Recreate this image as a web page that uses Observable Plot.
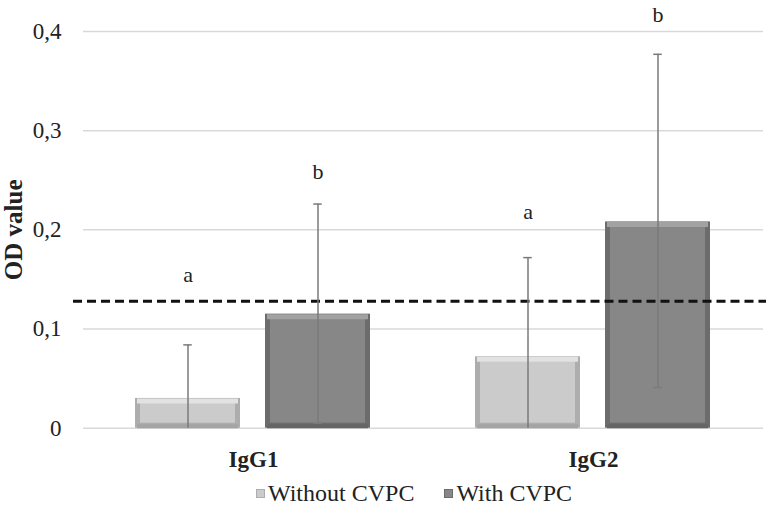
<!DOCTYPE html>
<html><head><meta charset="utf-8">
<script src="https://cdn.jsdelivr.net/npm/d3@7"></script>
<script src="https://cdn.jsdelivr.net/npm/@observablehq/plot@0.6"></script>
<style>
body{margin:0;background:#fff;font-family:"Liberation Serif","Times New Roman",serif;}
#legend{display:flex;align-items:center;height:38px;padding-left:256px;font-size:24px;color:#222;}
#legend .item{display:flex;align-items:center;margin-right:30px;}
#legend .sw{width:9px;height:9px;margin-right:3px;box-sizing:border-box;}
</style></head><body>
<div id="chart"></div>
<div id="legend"></div>
<script>
const groups = ["IgG1", "IgG2"];
const series = ["Without CVPC", "With CVPC"];
const withoutMean = [0.030, 0.072];
const withMean = [0.115, 0.208];
const withoutLower = [0, 0];
const withoutUpper = [0.084, 0.172];
const withLower = [0.005, 0.041];
const withUpper = [0.226, 0.377];
const withoutLetter = ["a", "a"];
const withLetter = ["b", "b"];
const withoutLetterY = [0.155, 0.218];
const withLetterY = [0.258, 0.417];
const threshold = 0.128;
const yTicks = [0, 0.1, 0.2, 0.3, 0.4];

const rows = [];
groups.forEach((g, i) => {
  rows.push({group: g, series: series[0], mean: withoutMean[i], lo: withoutLower[i], hi: withoutUpper[i], letter: withoutLetter[i], ly: withoutLetterY[i]});
  rows.push({group: g, series: series[1], mean: withMean[i], lo: withLower[i], hi: withUpper[i], letter: withLetter[i], ly: withLetterY[i]});
});
const edge = {"Without CVPC": "#adadad", "With CVPC": "#6c6c6c"};
const face = {"Without CVPC": "#cbcbcb", "With CVPC": "#878787"};
const hl = {"Without CVPC": "#e2e2e2", "With CVPC": "#a2a2a2"};
const shadow = {"Without CVPC": "#a4a4a4", "With CVPC": "#656565"};

const thrRows = [{group: groups[0], y: threshold}, {group: groups[1], y: threshold}];
const fmt = d => d === 0 ? "0" : d.toFixed(1).replace(".", ",");
const bw = 105.5, cap = 9;

const chart = Plot.plot({
  width: 769,
  height: 474,
  marginLeft: 82,
  marginRight: 6,
  marginTop: 31,
  marginBottom: 46.3,
  style: {fontFamily: '"Liberation Serif","Times New Roman",serif', fontSize: "23px", color: "#222", background: "#fff", overflow: "visible"},
  fx: {domain: groups, padding: 0, axis: "bottom", label: null, tickSize: 0, tickPadding: 22},
  x: {domain: series, paddingInner: 0.19, paddingOuter: 0.4, axis: null},
  y: {domain: [0, 0.4], ticks: yTicks, tickFormat: fmt, tickSize: 0, tickPadding: 22, label: "OD value", labelAnchor: "center", labelOffset: 79},
  marks: [
    Plot.ruleY(yTicks, {stroke: "#d9d9d9", strokeWidth: 1.5}),
    Plot.barY(rows, {fx: "group", x: "series", y: "mean", fill: d => edge[d.series]}),
    Plot.barY(rows, {fx: "group", x: "series", y: "mean", fill: d => face[d.series], inset: 5}),
    Plot.tickY(rows, {fx: "group", x: "series", y: "mean", stroke: d => hl[d.series], strokeWidth: 5, dy: 2.5, insetLeft: 2, insetRight: 2}),
    Plot.tickY(rows, {fx: "group", x: "series", y: 0, stroke: d => shadow[d.series], strokeWidth: 4, dy: -2, insetLeft: 2, insetRight: 2}),
    Plot.ruleY(thrRows.slice(0, 1), {fx: "group", y: "y", stroke: "#111", strokeWidth: 3, strokeDasharray: "9,5", insetLeft: -10}),
    Plot.ruleY(thrRows.slice(1), {fx: "group", y: "y", stroke: "#111", strokeWidth: 3, strokeDasharray: "9,5", strokeDashoffset: 0.5, insetRight: -3}),
    Plot.ruleX(rows, {fx: "group", x: "series", y1: "lo", y2: "hi", stroke: "#7a7a7a", strokeWidth: 1.5}),
    Plot.tickY(rows, {fx: "group", x: "series", y: "hi", stroke: "#7a7a7a", strokeWidth: 1.5, insetLeft: (bw - cap) / 2, insetRight: (bw - cap) / 2}),
    Plot.tickY(rows.filter(d => d.lo > 0), {fx: "group", x: "series", y: "lo", stroke: "#7a7a7a", strokeWidth: 1.5, insetLeft: (bw - cap) / 2, insetRight: (bw - cap) / 2}),
    Plot.text(rows, {fx: "group", x: "series", y: "ly", text: "letter", fontSize: 22, fill: "#222"})
  ]
});
document.getElementById("chart").appendChild(chart);
chart.querySelectorAll("g[aria-label='y-axis label']").forEach(g => {
  g.setAttribute("font-weight", "bold");
  g.setAttribute("font-size", "25px");
  g.querySelectorAll("text").forEach(t => { t.textContent = "OD value"; });
});
chart.querySelectorAll("g[aria-label='fx-axis tick label']").forEach(g => {
  g.setAttribute("font-weight", "bold");
});

const leg = document.getElementById("legend");
series.forEach(s => {
  const it = document.createElement("div"); it.className = "item";
  const sw = document.createElement("span"); sw.className = "sw";
  sw.style.background = face[s]; sw.style.border = "1.5px solid " + edge[s];
  const tx = document.createElement("span"); tx.textContent = s;
  it.appendChild(sw); it.appendChild(tx); leg.appendChild(it);
});
</script>
</body></html>
